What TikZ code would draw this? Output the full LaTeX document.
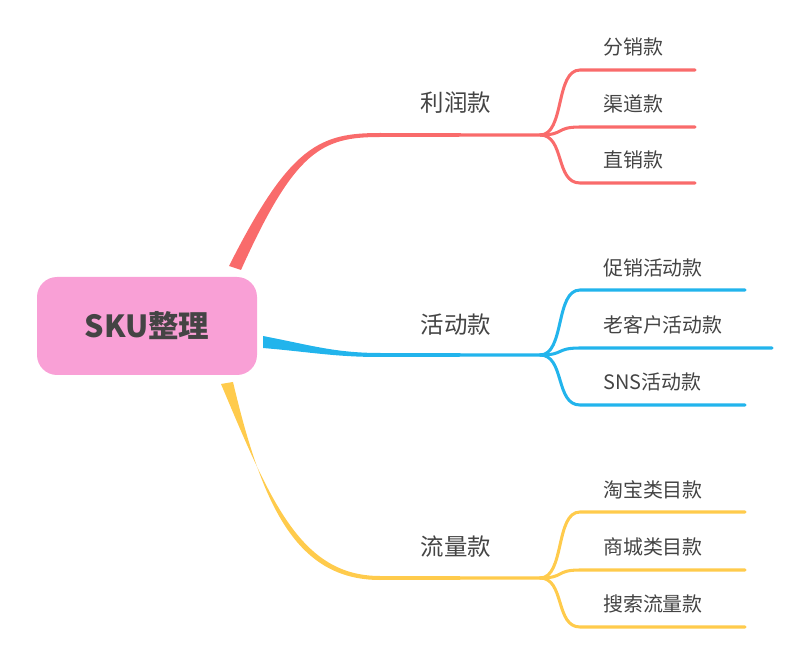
\documentclass[tikz,border=0pt]{standalone}
\usepackage{fontspec}
\setmainfont{Noto Sans CJK SC}
\definecolor{cred}{HTML}{F96B6B}
\definecolor{cblue}{HTML}{22B4EC}
\definecolor{cyel}{HTML}{FFCB4C}
\definecolor{cpink}{HTML}{F9A0D6}
\definecolor{ctext}{HTML}{444444}
\begin{document}
\begin{tikzpicture}[x=0.03cm,y=-0.03cm,
  leaf/.style={line width=2.6pt,line cap=round},
  lbl/.style={text=ctext,font=\fontsize{17}{20}\selectfont,anchor=west,inner sep=0pt},
  blbl/.style={text=ctext,font=\fontsize{20}{24}\selectfont,inner sep=0pt}]
\useasboundingbox (0,0) rectangle (800,651);
% central
\node[fill=cpink,rounded corners=0.6cm,minimum width=220*0.03cm,minimum height=98*0.03cm,text=ctext,font=\fontsize{26}{30}\selectfont\bfseries] (root) at (147,326) {SKU整理};
% red branch
\coordinate (r) at (540,135);
\fill[cred] (229,266) .. controls (290,145) and (320,133) .. (380,133) -- (540,133.5) -- (540,136.5) -- (380,137) .. controls (322,137) and (295,150) .. (241,270) -- cycle;
% blue branch
\coordinate (b) at (540,355);
\fill[cblue] (263,336) .. controls (310,345) and (335,353) .. (380,353) -- (540,353.5) -- (540,356.5) -- (380,357) .. controls (335,357) and (310,352) .. (263,348) -- cycle;
% yellow branch
\coordinate (y) at (540,578);
\fill[cyel] (221,384) .. controls (270,500) and (300,576) .. (380,576) -- (540,576.5) -- (540,579.5) -- (380,580) .. controls (296,580) and (262,505) .. (233,382) -- cycle;
\node[blbl] (n1) at (456,103) {利润款};
\node[blbl] (n2) at (456,325) {活动款};
\node[blbl] (n3) at (456,547) {流量款};
% leaves
\foreach \c/\s/\ya/\yb/\yc/\ea/\eb/\ec in {cred/r/70/127/183/695/695/695, cblue/b/290/348/405/745/772/745, cyel/y/512/570/627/745/745/745}{
  \draw[leaf,\c] (\s) .. controls +(25,0) and (555,\ya) .. (580,\ya) -- (\ea,\ya);
  \draw[leaf,\c] (\s) .. controls +(25,0) and (555,\yb) .. (580,\yb) -- (\eb,\yb);
  \draw[leaf,\c] (\s) .. controls +(25,0) and (555,\yc) .. (580,\yc) -- (\ec,\yc);
}
\node[lbl] (a1) at (603,47) {分销款};
\node[lbl] (a2) at (603,104) {渠道款};
\node[lbl] (a3) at (603,160) {直销款};
\node[lbl] (b1) at (603,268) {促销活动款};
\node[lbl] (b2) at (603,325) {老客户活动款};
\node[lbl] (b3) at (603,382) {SNS活动款};
\node[lbl] (c1) at (603,490) {淘宝类目款};
\node[lbl] (c2) at (603,547) {商城类目款};
\node[lbl] (c3) at (603,604) {搜索流量款};
\end{tikzpicture}
\end{document}
